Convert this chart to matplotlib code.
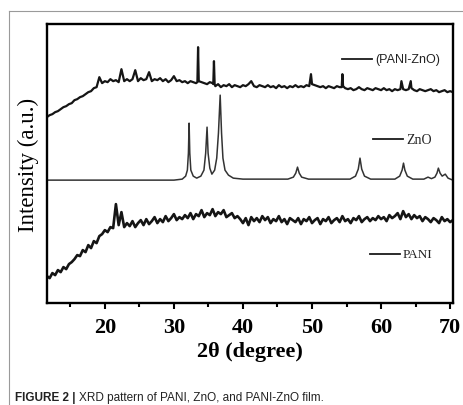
import numpy as np
import matplotlib
matplotlib.use('Agg')
import matplotlib.pyplot as plt
from matplotlib.lines import Line2D

# 2theta sampling of the two noisy scans (0.4 deg step)
two_theta = np.round(np.arange(11.6, 70.41, 0.4), 2)

# PANI-ZnO film (top trace), intensity in arbitrary units
pani_zno = [
    186, 188, 189, 191, 192, 194, 196, 197, 199, 200,
    203, 204, 206, 207, 209, 211, 212, 215, 216, 226,
    220, 222, 221, 224, 222, 223, 221, 234, 222, 224,
    222, 224, 233, 222, 225, 223, 224, 231, 222, 224,
    223, 225, 222, 224, 221, 223, 227, 222, 223, 221,
    222, 220, 222, 221, 220, 222, 221, 220, 219, 221,
    220, 217, 219, 216, 218, 217, 219, 216, 218, 217,
    216, 218, 217, 219, 222, 217, 216, 218, 217, 216,
    218, 216, 217, 215, 218, 216, 217, 215, 217, 216,
    218, 216, 217, 216, 218, 217, 219, 218, 217, 216,
    217, 215, 217, 216, 215, 217, 216, 229, 215, 214,
    215, 213, 214, 216, 214, 213, 215, 214, 213, 215,
    214, 213, 215, 213, 214, 212, 214, 213, 214, 214,
    213, 214, 215, 213, 212, 214, 213, 212, 213, 214,
    212, 213, 211, 212, 213, 211, 212, 211,
]
# sharp reflections of the PANI-ZnO trace
pani_zno_peak_x = [33.4, 33.5, 35.7, 35.8, 35.9, 49.85, 54.3, 54.5, 62.95, 64.3]
pani_zno_peak_y = [221, 256, 219, 242, 219, 229, 216, 217, 222, 222]

# ZnO (middle trace)
zno_x = [11.6, 20.0, 30.0, 31.2, 31.7, 31.95, 32.1, 32.2, 32.3, 32.45,
         32.8, 33.3, 33.9, 34.35, 34.6, 34.8, 34.95, 35.2, 35.5, 35.9,
         36.2, 36.45, 36.7, 36.9, 37.1, 37.4, 37.9, 38.6, 40.0, 46.5,
         47.3, 47.65, 47.9, 48.15, 48.5, 49.5, 55.5, 56.3, 56.7, 56.95,
         57.2, 57.6, 58.5, 62.0, 62.7, 63.05, 63.25, 63.45, 63.8, 64.6,
         66.2, 66.8, 67.3, 67.8, 68.1, 68.3, 68.55, 68.85, 69.3, 69.7,
         70.4]
zno_y = [123, 123, 123, 124, 127, 133, 150, 180, 150, 133,
         127, 125, 127, 133, 150, 176, 150, 135, 129, 133,
         145, 170, 208, 170, 145, 133, 128, 125, 124, 124,
         126, 130, 136, 130, 126, 124, 124, 127, 134, 145,
         134, 127, 124, 124, 127, 133, 140, 133, 127, 124,
         124, 126, 124.5, 126, 130, 135, 130, 127, 129, 125,
         123]

# PANI (bottom trace)
pani = [
    27, 25, 30, 28, 33, 31, 36, 34, 39, 41,
    44, 48, 47, 53, 51, 58, 55, 62, 60, 67,
    69, 73, 71, 76, 75, 99, 78, 91, 76, 80,
    77, 82, 76, 80, 83, 78, 84, 79, 82, 86,
    80, 84, 81, 87, 82, 85, 89, 83, 86, 84,
    88, 85, 90, 84, 89, 87, 93, 86, 90, 88,
    94, 87, 91, 89, 93, 86, 88, 90, 85, 87,
    84, 80, 85, 78, 86, 82, 85, 81, 87, 83,
    86, 80, 84, 82, 87, 81, 84, 79, 85, 83,
    81, 85, 79, 84, 82, 86, 80, 83, 85, 79,
    84, 82, 86, 80, 83, 85, 81, 87, 82, 84,
    80, 85, 83, 87, 81, 84, 86, 82, 85, 83,
    87, 84, 86, 82, 88, 85, 87, 90, 84, 92,
    86, 89, 84, 88, 85, 87, 82, 86, 84, 81,
    85, 83, 80, 86, 82, 84, 81, 83,
]

labels = ['(PANI-ZnO)', 'ZnO', 'PANI']
xticks = [20, 30, 40, 50, 60, 70]

serif = ['Liberation Serif', 'DejaVu Serif']
sans = ['Liberation Sans', 'DejaVu Sans']

fig = plt.figure(figsize=(4.64, 4.06), dpi=100)
fig.patch.set_facecolor('white')
ax = fig.add_axes([0.101, 0.251, 0.875, 0.687])

# top trace: grid samples plus the sharp peaks
tx = np.concatenate([two_theta, pani_zno_peak_x])
ty = np.concatenate([pani_zno, pani_zno_peak_y])
order = np.argsort(tx, kind='stable')
ax.plot(tx[order], ty[order], color='#151515', lw=1.6)
ax.plot(zno_x, zno_y, color='#333333', lw=1.1)
ax.plot(two_theta, pani, color='#151515', lw=1.9)

ax.set_xlim(11.6, 70.4)
ax.set_ylim(0, 279)
ax.set_yticks([])
ax.set_xticks(xticks)
ax.set_xticks([15, 25, 35, 45, 55, 65], minor=True)
ax.tick_params(axis='x', which='major', direction='out', length=4, width=1.5, pad=6)
ax.tick_params(axis='x', which='minor', direction='out', length=3, width=1.5)
for lab in ax.get_xticklabels():
    lab.set_fontfamily(serif)
    lab.set_fontsize(16)
    lab.set_fontweight('bold')
for s in ax.spines.values():
    s.set_linewidth(1.7)

ax.set_xlabel('2θ (degree)', fontfamily=serif, fontsize=16, fontweight='bold', labelpad=3)
ax.set_ylabel('Intensity (a.u.)', fontfamily=serif, fontsize=16.5, labelpad=6)

# in-plot labels with short line keys
key_pos = [(0.727, 0.800, 0.875), (0.803, 0.877, 0.588), (0.796, 0.869, 0.176)]
key_font = [(sans, 9), (serif, 10), (serif, 9.5)]
for (x0, x1, yk), (fam, fs), lab in zip(key_pos, key_font, labels):
    ax.plot([x0, x1], [yk, yk], color='#1a1a1a', lw=1.3, transform=ax.transAxes)
    ax.text(x1 + 0.008, yk, lab, transform=ax.transAxes, va='center', ha='left',
            fontfamily=fam, fontsize=fs, color='#222222')

# outer frame of the scanned panel
fig.add_artist(Line2D([9 / 464, 9 / 464], [0, 1 - 12 / 406], color='#9a9a9a', lw=0.8))
fig.add_artist(Line2D([9 / 464, 1], [1 - 12 / 406, 1 - 12 / 406], color='#9a9a9a', lw=0.8))

# caption
cap1 = fig.text(0.032, 0.0197, 'FIGURE 2 | ', fontfamily=sans, fontsize=8.5,
                fontweight='bold', va='center', ha='left', color='#222222')
fig.canvas.draw()
bb = cap1.get_window_extent(fig.canvas.get_renderer())
fig.text(bb.x1 / fig.bbox.width, 0.0197, 'XRD pattern of PANI, ZnO, and PANI-ZnO film.',
         fontfamily=sans, fontsize=8.5, va='center', ha='left', color='#222222')

fig.savefig('out.png', dpi=100)
